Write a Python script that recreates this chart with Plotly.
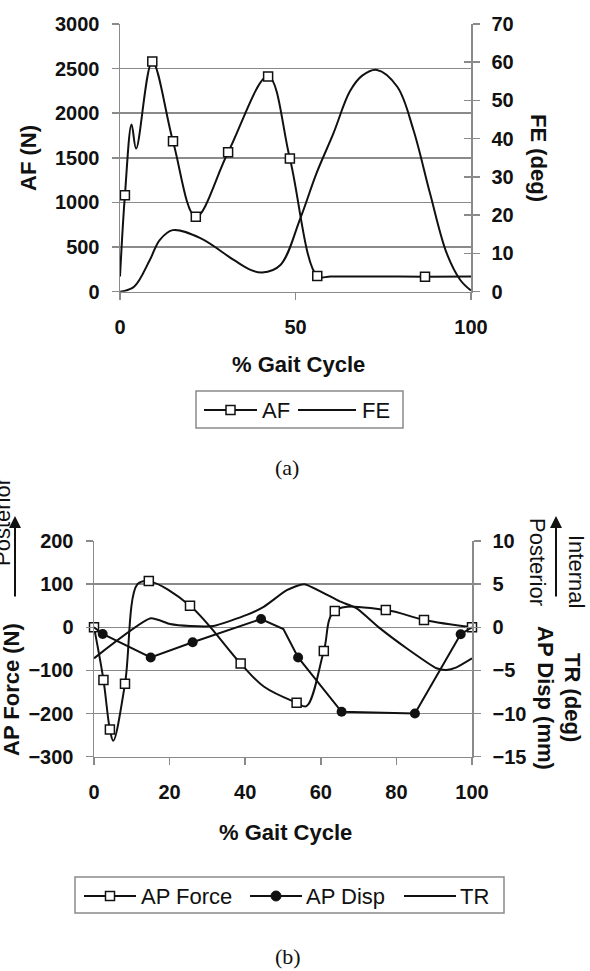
import plotly.graph_objects as go

# ---------------- data ----------------
# (a) AF (N) – smoothed curve with square markers on some points
af_x = [0, 1.4, 3.3, 4.6, 9.2, 15.1, 21.6, 30.8, 42.2, 48.4, 56.2, 60, 70, 86.9, 100]
af_y = [170, 1080, 1875, 1604, 2580, 1686, 839, 1563, 2413, 1492, 176, 170, 171, 168, 170]
af_marked = [1, 4, 5, 6, 7, 8, 9, 10, 13]

# (a) FE (deg) – smoothed line, right axis
fe_x = [0, 4, 8.5, 11.3, 15, 22.9, 32.4, 37.2, 40.5, 45.7, 51.3, 56, 60.8, 65.5, 69, 73.2, 79, 83.6, 88.3, 93.1, 97, 100]
fe_y = [0, 1.3, 8.3, 13.5, 16.1, 14, 8.3, 5.7, 5.0, 7.0, 19, 31, 41.4, 52.4, 56.5, 58, 53.6, 42.3, 25.8, 10, 3, 0.3]

# (b) AP Force (N) – smoothed curve with square markers
apf_x = [0, 2.5, 4.2, 5.1, 8.2, 11.5, 14.5, 25.4, 38.8, 45, 53.6, 56.2, 60.8, 63.7, 77.2, 87.3, 100]
apf_y = [0, -122, -237, -263, -131, 100, 107, 50, -84, -138, -175, -183, -55, 38, 40, 17, 0]
apf_marked = [0, 1, 2, 4, 6, 7, 8, 10, 12, 13, 14, 15, 16]

# (b) AP Disp (mm) – straight segments with filled circles, right axis
apd_x = [0, 2.3, 15, 26.1, 44.2, 50.1, 54, 65.5, 84.9, 97, 100]
apd_y = [0, -0.78, -3.5, -1.74, 0.96, -0.2, -3.5, -9.8, -10, -0.8, 0]
apd_marked = [1, 2, 3, 4, 6, 7, 8, 9]

# (b) TR (deg) – line, right axis
tr_x = [0, 15, 20.1, 25.4, 31.6, 40.4, 45, 51, 55.6, 65, 69.5, 75.6, 82.6, 90.6, 93.2, 95.9, 100]
tr_y = [-3.6, 1.04, 0.38, 0.15, 0.15, 1.43, 2.4, 4.3, 5.0, 3.0, 2.2, -0.1, -2.4, -4.75, -4.95, -4.64, -3.6]

top_x_ticks = [0, 50, 100]
bot_x_ticks = [0, 20, 40, 60, 80, 100]

legend_a = ["AF", "FE"]
legend_b = ["AP Force", "AP Disp", "TR"]

# ---------------- styling ----------------
W, H = 590, 971
def px(x): return x / W
def py(y): return 1 - y / H

BLACK = "#111111"
GRID = "#8a8a8a"
SANS = "Liberation Sans"
SERIF = "Liberation Serif"
tickfont = dict(family=SANS, size=20, color=BLACK, weight="bold")
SQ = dict(symbol="square", size=9, color="white", line=dict(color=BLACK, width=1.5))
CI = dict(symbol="circle", size=10, color=BLACK)

fig = go.Figure()

def pick(arr, idx):
    return [arr[i] for i in idx]

# ---- (a) ----
fig.add_trace(go.Scatter(x=af_x, y=af_y, mode="lines", line=dict(color=BLACK, width=2, shape="spline"),
                         xaxis="x", yaxis="y"))
fig.add_trace(go.Scatter(x=pick(af_x, af_marked), y=pick(af_y, af_marked), mode="markers",
                         marker=SQ, xaxis="x", yaxis="y", cliponaxis=False))
fig.add_trace(go.Scatter(x=fe_x, y=fe_y, mode="lines", line=dict(color=BLACK, width=2, shape="spline"),
                         xaxis="x", yaxis="y2"))

# ---- (b) ----
fig.add_trace(go.Scatter(x=apf_x, y=apf_y, mode="lines", line=dict(color=BLACK, width=2, shape="spline"),
                         xaxis="x2", yaxis="y3"))
fig.add_trace(go.Scatter(x=pick(apf_x, apf_marked), y=pick(apf_y, apf_marked), mode="markers",
                         marker=SQ, xaxis="x2", yaxis="y3", cliponaxis=False))
fig.add_trace(go.Scatter(x=apd_x, y=apd_y, mode="lines", line=dict(color=BLACK, width=2),
                         xaxis="x2", yaxis="y4"))
fig.add_trace(go.Scatter(x=pick(apd_x, apd_marked), y=pick(apd_y, apd_marked), mode="markers",
                         marker=CI, xaxis="x2", yaxis="y4", cliponaxis=False))
fig.add_trace(go.Scatter(x=tr_x, y=tr_y, mode="lines", line=dict(color=BLACK, width=2, shape="spline", smoothing=0.5),
                         xaxis="x2", yaxis="y4"))
# activate the crossing-tick overlay axes
fig.add_trace(go.Scatter(x=[None], y=[None], xaxis="x", yaxis="y5"))
fig.add_trace(go.Scatter(x=[None], y=[None], xaxis="x2", yaxis="y6"))

# ---------------- axes ----------------
top_xd = [px(120), px(471)]
top_yd = [py(291.7), py(24)]
bot_xd = [px(94), px(472)]
bot_yd = [py(756.7), py(541)]

common = dict(showline=True, linecolor=GRID, linewidth=1.5, ticks="outside", ticklen=7,
              tickcolor=GRID, tickwidth=1.5, tickfont=tickfont, zeroline=False, automargin=False)
inner = dict(showgrid=False, showline=False, ticks="inside", ticklen=7, tickcolor=GRID, tickwidth=1.5,
             showticklabels=False, zeroline=False, automargin=False)

fig.update_layout(
    width=W, height=H, autosize=False, showlegend=False, hovermode=False,
    margin=dict(l=0, r=0, t=0, b=0, pad=0),
    paper_bgcolor="white", plot_bgcolor="white",
    xaxis=dict(domain=top_xd, anchor="y", range=[0, 100], tickvals=top_x_ticks, showgrid=False,
               ticklabelstandoff=10, **common),
    yaxis=dict(domain=top_yd, anchor="x", range=[0, 3000], dtick=500, showgrid=True,
               gridcolor=GRID, gridwidth=1.5, ticklabelstandoff=8, **common),
    yaxis2=dict(overlaying="y", anchor="x", side="right", range=[0, 70], dtick=10, showgrid=False,
                ticklabelstandoff=8, **common),
    yaxis5=dict(overlaying="y", anchor="x", side="right", range=[0, 70], dtick=10, **inner),
    xaxis2=dict(domain=bot_xd, anchor="y3", range=[0, 100], tickvals=bot_x_ticks, showgrid=False,
                ticklabelstandoff=10, **common),
    yaxis3=dict(domain=bot_yd, anchor="x2", range=[-300, 200], dtick=100, showgrid=True,
                gridcolor=GRID, gridwidth=1.5, ticklabelstandoff=8, **common),
    yaxis4=dict(overlaying="y3", anchor="x2", side="right", range=[-15, 10], dtick=5, showgrid=False,
                ticklabelstandoff=8, **common),
    yaxis6=dict(overlaying="y3", anchor="x2", side="right", range=[-15, 10], dtick=5, **inner),
)

# ---------------- texts ----------------
bold = dict(family=SANS, size=22, color=BLACK, weight="bold")
reg = dict(family=SANS, size=22, color=BLACK)
ann = []
shapes = []
def A(text, x, y, font, angle=0, xanchor="center"):
    ann.append(dict(text=text, x=px(x), y=py(y), xref="paper", yref="paper", showarrow=False,
                    font=font, textangle=angle, xanchor=xanchor, yanchor="middle"))

A("AF (N)", 28, 158, bold, -90)
A("FE (deg)", 539, 158, bold, 90)
A("% Gait Cycle", 298, 365, bold)
A("(a)", 287, 468, dict(family=SERIF, size=22, color=BLACK))

A("AP Force (N)", 11, 690, bold, -90)
A("Posterior", 2, 522, reg, -90)
A("Posterior", 538, 562, reg, 90)
A("Internal", 577, 571, reg, 90)
A("AP Disp (mm)", 546, 698, bold, 90)
A("TR (deg)", 573, 697, bold, 90)
A("% Gait Cycle", 285, 832, bold)
A("(b)", 288, 956, dict(family=SERIF, size=22, color=BLACK))

for xa in (15, 556):
    ann.append(dict(text="", x=px(xa), y=py(516), xref="paper", yref="paper", showarrow=True,
                    axref="pixel", ayref="pixel", ax=0, ay=82, arrowhead=2, arrowsize=1.2,
                    arrowwidth=2, arrowcolor=BLACK))

# ---------------- legends (drawn boxes) ----------------
def legend_box(x0, x1, y0, y1):
    shapes.append(dict(type="rect", xref="paper", yref="paper", x0=px(x0), x1=px(x1),
                       y0=py(y1), y1=py(y0), line=dict(color=GRID, width=1.5), fillcolor="white",
                       layer="above"))

def legend_item(lx0, lx1, yc, label, tx, mk=None):
    shapes.append(dict(type="line", xref="paper", yref="paper", x0=px(lx0), x1=px(lx1),
                       y0=py(yc), y1=py(yc), line=dict(color=BLACK, width=2), layer="above"))
    mc = (lx0 + lx1) / 2
    if mk == "square":
        shapes.append(dict(type="rect", xref="paper", yref="paper", x0=px(mc - 4.5), x1=px(mc + 4.5),
                           y0=py(yc + 4.5), y1=py(yc - 4.5), fillcolor="white",
                           line=dict(color=BLACK, width=1.5), layer="above"))
    elif mk == "circle":
        shapes.append(dict(type="circle", xref="paper", yref="paper", x0=px(mc - 5), x1=px(mc + 5),
                           y0=py(yc + 5), y1=py(yc - 5), fillcolor=BLACK,
                           line=dict(color=BLACK, width=1), layer="above"))
    A(label, tx - 2, yc, reg, 0, "left")

legend_box(196, 403, 391, 428)
legend_item(204, 257, 410, legend_a[0], 262, "square")
legend_item(298, 356, 410, legend_a[1], 362)

legend_box(75, 504, 877, 913)
legend_item(84, 136, 896, legend_b[0], 141, "square")
legend_item(250, 302, 896, legend_b[1], 306, "circle")
legend_item(404, 456, 896, legend_b[2], 460)

fig.update_layout(annotations=ann, shapes=shapes)
fig.write_html(
    "out.html",
    config={"displayModeBar": False, "staticPlot": True},
    post_script="document.body.style.margin='0';document.body.style.padding='0';"
                "document.body.style.overflow='hidden';",
)
